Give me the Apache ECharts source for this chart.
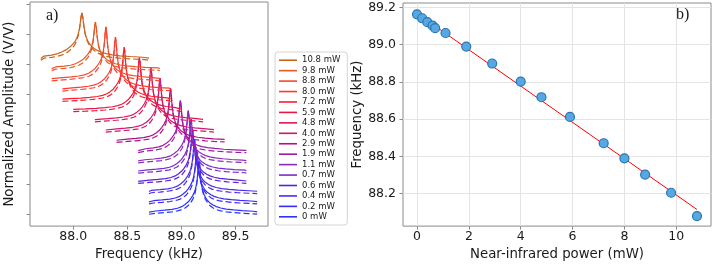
<!DOCTYPE html>
<html>
<head>
<meta charset="utf-8">
<script src="https://cdn.jsdelivr.net/npm/echarts@6.0.0/dist/echarts.min.js"></script>
<style>
  html, body { margin: 0; padding: 0; background: #fff; }
  #chart { width: 713px; height: 266px; }
</style>
</head>
<body>
<div id="chart"></div>
<script>
// NIR power for each sweep, bottom trace first (mW)
const powers = [0, 0.2, 0.4, 0.6, 0.7, 1.1, 1.9, 2.9, 4.0, 4.8, 5.9, 7.2, 8.0, 8.8, 9.8, 10.8]
const powerLabels = ['0 mW', '0.2 mW', '0.4 mW', '0.6 mW', '0.7 mW', '1.1 mW', '1.9 mW', '2.9 mW',
  '4.0 mW', '4.8 mW', '5.9 mW', '7.2 mW', '8.0 mW', '8.8 mW', '9.8 mW', '10.8 mW']
// fitted resonance frequency (kHz), panel b
const peakFreq = [89.163, 89.142, 89.121, 89.103, 89.089, 89.063, 88.990, 88.899,
  88.802, 88.718, 88.612, 88.471, 88.390, 88.302, 88.205, 88.080]
// start of each 1 kHz sweep window (kHz)
const sweepStart = [88.7, 88.7, 88.7, 88.6, 88.6, 88.6, 88.6, 88.4, 88.3, 88.2, 88.0, 87.9, 87.9, 87.8, 87.8, 87.7]
const peakAmp = [1, 1, 1, 1, 1, 0.97, 0.97, 1, 1, 1, 1, 1, 1, 1, 0.9, 0.88]
const widthScale = [1, 1, 1, 1, 1, 1, 1, 1, 1, 1, 1, 1, 1, 1, 1.15, 1.4]
const traceColors = ['#2b35ff', '#3a2cf6', '#4a2cee', '#5a1fdc', '#7a2ccc', '#8c2cbc', '#a01ca8', '#b0108a',
  '#cc1870', '#dc1858', '#e81844', '#ff1a2a', '#ff3a30', '#f5482e', '#e55a2a', '#c8641e']

// resonance shape: offset from peak (kHz) -> normalized amplitude
const profOffset = [-0.60, -0.50, -0.40, -0.32, -0.25, -0.20, -0.16, -0.13, -0.10, -0.08, -0.06, -0.045,
  -0.035, -0.025, -0.018, -0.012, -0.006, 0, 0.006, 0.012, 0.018, 0.025, 0.035, 0.045, 0.06, 0.08,
  0.10, 0.13, 0.16, 0.20, 0.25, 0.32, 0.40, 0.50, 0.60]
const profMeasured = [0.040, 0.050, 0.060, 0.075, 0.090, 0.110, 0.140, 0.180, 0.230, 0.280, 0.340, 0.400,
  0.460, 0.550, 0.640, 0.760, 0.920, 1.000, 0.900, 0.740, 0.620, 0.520, 0.430, 0.370, 0.310, 0.250,
  0.210, 0.170, 0.140, 0.115, 0.095, 0.080, 0.065, 0.055, 0.045]
const profFit = [0.000, 0.008, 0.018, 0.030, 0.045, 0.062, 0.085, 0.115, 0.160, 0.210, 0.270, 0.340,
  0.410, 0.510, 0.610, 0.740, 0.910, 1.000, 0.910, 0.740, 0.610, 0.510, 0.410, 0.340, 0.270, 0.210,
  0.160, 0.115, 0.085, 0.062, 0.045, 0.030, 0.018, 0.008, 0.000]

const SWEEP_SPAN = 1.0
const TRACE_STEP = 0.19
const ampTicks = [0, 0.556, 1.112, 1.668, 2.224, 2.78, 3.336, 3.892]
const freqTicksA = [88.0, 88.5, 89.0, 89.5]
const powerTicks = [0, 2, 4, 6, 8, 10]
const freqTicksB = [88.2, 88.4, 88.6, 88.8, 89.0, 89.2]

// linear fit, panel b
const fitPower = [0, 10.8]
const fitFreq = [89.168, 88.115]

const FONT = 'DejaVu Sans'
const TXT = '#1a1a1a'
const FRAME = '#8a8a8a'

function traceData(i, prof) {
  const lo = sweepStart[i]
  const hi = lo + SWEEP_SPAN
  const base = i * TRACE_STEP
  const pts = []
  profOffset.forEach((d, k) => {
    const f = peakFreq[i] + d * widthScale[i]
    if (f >= lo && f <= hi) pts.push([f, base + peakAmp[i] * prof[k]])
  })
  if (pts[0][0] > lo) pts.unshift([lo, base + peakAmp[i] * prof[0]])
  if (pts[pts.length - 1][0] < hi) pts.push([hi, base + peakAmp[i] * prof[prof.length - 1]])
  return pts
}

const traceSeries = []
powers.forEach((p, i) => {
  traceSeries.push({
    name: powerLabels[i],
    type: 'line',
    xAxisIndex: 0,
    yAxisIndex: 0,
    data: traceData(i, profMeasured),
    symbol: 'none',
    color: traceColors[i],
    lineStyle: {color: traceColors[i], width: 1.2},
    z: 2,
    animation: false
  })
  traceSeries.push({
    name: powerLabels[i] + ' fit',
    type: 'line',
    xAxisIndex: 0,
    yAxisIndex: 0,
    data: traceData(i, profFit),
    symbol: 'none',
    color: traceColors[i],
    lineStyle: {color: traceColors[i], width: 1.2, type: [6, 3]},
    z: 2,
    animation: false
  })
})

const tickLabel = {color: TXT, fontFamily: FONT, fontSize: 12.5}
const nameText = {color: TXT, fontFamily: FONT, fontSize: 13.3}

const chart = echarts.init(document.getElementById('chart'), null, {renderer: 'canvas'})
chart.setOption({
  backgroundColor: '#fff',
  animation: false,
  grid: [
    {left: 30, top: 2, width: 238, height: 227, show: true, borderColor: FRAME, borderWidth: 1},
    {left: 403, top: 3, width: 308, height: 227, show: true, borderColor: FRAME, borderWidth: 1}
  ],
  legend: {
    data: powerLabels.slice().reverse(),
    orient: 'vertical',
    left: 275,
    top: 52,
    icon: 'rect',
    itemWidth: 18,
    itemHeight: 1.6,
    itemGap: 0,
    padding: [3, 7, 3, 4],
    backgroundColor: '#fff',
    borderColor: '#d4d4d4',
    borderWidth: 1,
    borderRadius: 3,
    selectedMode: false,
    textStyle: {color: TXT, fontFamily: FONT, fontSize: 8.5, lineHeight: 10.44}
  },
  xAxis: [
    {
      type: 'value', gridIndex: 0, min: 87.6, max: 89.8,
      name: 'Frequency (kHz)', nameLocation: 'middle', nameGap: 19, nameTextStyle: nameText,
      axisLine: {show: false, onZero: false},
      axisTick: {show: true, length: 3.5, lineStyle: {color: FRAME}, customValues: freqTicksA},
      axisLabel: Object.assign({margin: 4, formatter: v => v.toFixed(1), customValues: freqTicksA}, tickLabel),
      splitLine: {show: false}
    },
    {
      type: 'value', gridIndex: 1, min: -0.54, max: 11.34,
      name: 'Near-infrared power (mW)', nameLocation: 'middle', nameGap: 19, nameTextStyle: nameText,
      axisLine: {show: false, onZero: false},
      axisTick: {show: true, length: 3.5, lineStyle: {color: FRAME}, customValues: powerTicks},
      axisLabel: Object.assign({margin: 4, customValues: powerTicks}, tickLabel),
      splitLine: {show: true, lineStyle: {color: '#e4e4e4', width: 1}}
    }
  ],
  yAxis: [
    {
      type: 'value', gridIndex: 0, min: -0.22, max: 3.93,
      name: 'Normalized Amplitude (V/V)', nameLocation: 'middle', nameGap: 14, nameTextStyle: nameText,
      axisLine: {show: false, onZero: false},
      axisTick: {show: true, length: 3.5, lineStyle: {color: FRAME}, customValues: ampTicks},
      axisLabel: {show: false},
      splitLine: {show: false}
    },
    {
      type: 'value', gridIndex: 1, min: 88.026, max: 89.224,
      name: 'Frequency (kHz)', nameLocation: 'middle', nameGap: 38, nameTextStyle: nameText,
      axisLine: {show: false, onZero: false},
      axisTick: {show: true, length: 3.5, lineStyle: {color: FRAME}, customValues: freqTicksB},
      axisLabel: Object.assign({margin: 7, formatter: v => v.toFixed(1), customValues: freqTicksB}, tickLabel),
      splitLine: {show: true, lineStyle: {color: '#e4e4e4', width: 1}}
    }
  ],
  graphic: [
    {type: 'text', left: 46, top: 8, style: {text: 'a)', fontFamily: 'Liberation Serif', fontSize: 16, fill: TXT}},
    {type: 'text', left: 676, top: 7, style: {text: 'b)', fontFamily: 'Liberation Serif', fontSize: 16, fill: TXT}}
  ],
  series: traceSeries.concat([
    {
      name: 'fit',
      type: 'line',
      xAxisIndex: 1,
      yAxisIndex: 1,
      data: fitPower.map((p, i) => [p, fitFreq[i]]),
      symbol: 'none',
      lineStyle: {color: '#ff0000', width: 1},
      z: 3
    },
    {
      name: 'peak',
      type: 'scatter',
      xAxisIndex: 1,
      yAxisIndex: 1,
      data: powers.map((p, i) => [p, peakFreq[i]]),
      symbolSize: 9,
      itemStyle: {color: '#56a8e2', borderColor: '#2b74b4', borderWidth: 1.2, opacity: 1},
      z: 4
    }
  ])
})
</script>
</body>
</html>
